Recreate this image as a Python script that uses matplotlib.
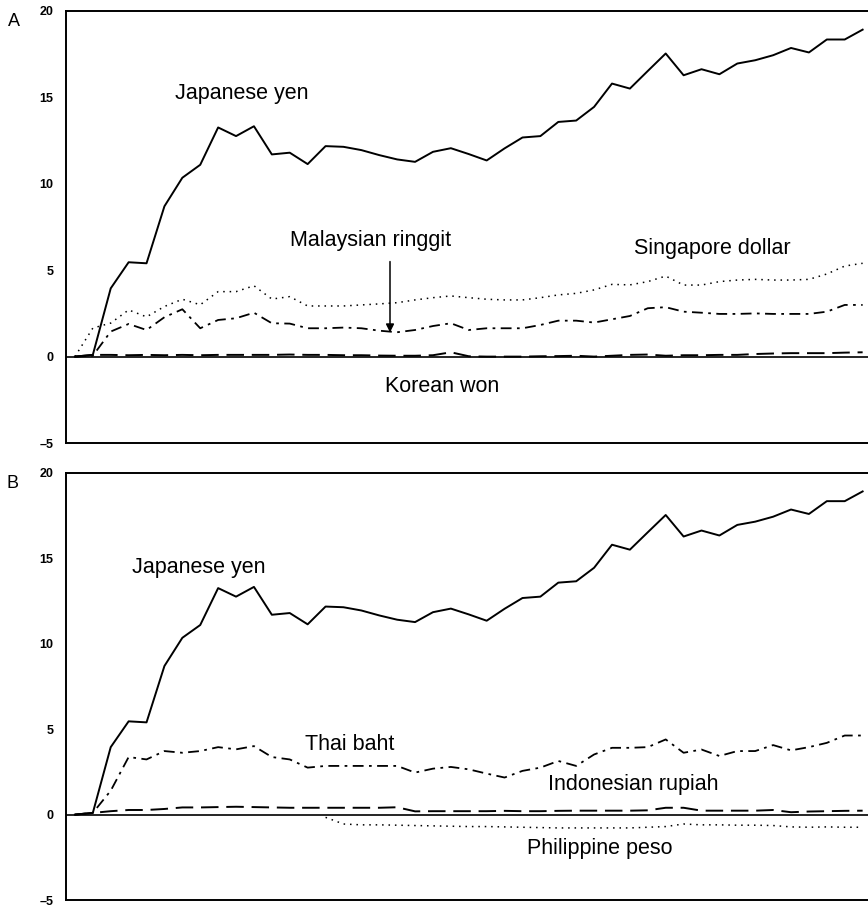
import numpy as np
import matplotlib
matplotlib.use("Agg")
import matplotlib.pyplot as plt

plt.rcParams['font.family'] = ['Liberation Sans', 'DejaVu Sans']

# ---- data (index = time period) ----
periods = list(range(45))
nan = float('nan')

japanese_yen = [0.0, 0.1, 3.95, 5.46, 5.40, 8.70, 10.35, 11.10, 13.26, 12.76,
                13.33, 11.70, 11.80, 11.14, 12.18, 12.14, 11.95, 11.66, 11.41, 11.27,
                11.85, 12.06, 11.72, 11.35, 12.05, 12.68, 12.76, 13.58, 13.66, 14.45,
                15.80, 15.51, 16.53, 17.54, 16.28, 16.63, 16.34, 16.96, 17.15, 17.44,
                17.86, 17.60, 18.35, 18.35, 18.92]

singapore_dollar = [0.0, 1.65, 1.94, 2.70, 2.30, 2.90, 3.32, 3.00, 3.76, 3.76,
                    4.10, 3.33, 3.47, 2.93, 2.93, 2.93, 2.99, 3.05, 3.12, 3.28,
                    3.41, 3.51, 3.41, 3.32, 3.28, 3.28, 3.41, 3.57, 3.66, 3.86,
                    4.18, 4.15, 4.34, 4.66, 4.14, 4.14, 4.34, 4.43, 4.47, 4.43,
                    4.43, 4.47, 4.78, 5.24, 5.40]

malaysian_ringgit = [0.0, 0.05, 1.45, 1.89, 1.54, 2.28, 2.74, 1.64, 2.12, 2.22,
                     2.54, 1.93, 1.91, 1.64, 1.64, 1.68, 1.64, 1.50, 1.41, 1.54,
                     1.77, 1.93, 1.54, 1.64, 1.64, 1.64, 1.83, 2.08, 2.08, 1.97,
                     2.16, 2.35, 2.80, 2.86, 2.60, 2.54, 2.47, 2.47, 2.50, 2.47,
                     2.47, 2.47, 2.60, 2.99, 2.99]

korean_won = [0.0, 0.10, 0.10, 0.08, 0.10, 0.08, 0.10, 0.08, 0.10, 0.10,
              0.10, 0.10, 0.12, 0.10, 0.10, 0.08, 0.08, 0.06, 0.05, 0.05,
              0.08, 0.25, 0.02, 0.0, 0.0, 0.0, 0.02, 0.03, 0.05, 0.0,
              0.05, 0.10, 0.12, 0.05, 0.08, 0.08, 0.10, 0.10, 0.15, 0.18,
              0.20, 0.20, 0.20, 0.23, 0.25]

thai_baht = [0.0, 0.10, 1.40, 3.37, 3.23, 3.72, 3.62, 3.72, 3.95, 3.82,
             4.01, 3.37, 3.23, 2.75, 2.85, 2.85, 2.85, 2.85, 2.85, 2.46,
             2.69, 2.79, 2.65, 2.40, 2.17, 2.56, 2.75, 3.14, 2.85, 3.52,
             3.91, 3.91, 3.95, 4.40, 3.62, 3.81, 3.43, 3.72, 3.72, 4.07,
             3.76, 3.95, 4.20, 4.63, 4.63]

indonesian_rupiah = [0.0, 0.10, 0.20, 0.27, 0.27, 0.33, 0.42, 0.42, 0.44, 0.46,
                     0.44, 0.42, 0.40, 0.40, 0.40, 0.40, 0.40, 0.40, 0.43, 0.19,
                     0.20, 0.20, 0.20, 0.20, 0.22, 0.20, 0.20, 0.22, 0.23, 0.23,
                     0.23, 0.23, 0.25, 0.40, 0.40, 0.23, 0.23, 0.23, 0.23, 0.27,
                     0.14, 0.18, 0.20, 0.22, 0.23]

philippine_peso = [nan] * 14 + [-0.16, -0.55, -0.60, -0.60, -0.62, -0.64,
                   -0.66, -0.68, -0.70, -0.70, -0.72, -0.74, -0.76, -0.78, -0.78, -0.78,
                   -0.78, -0.78, -0.74, -0.70, -0.55, -0.60, -0.60, -0.62, -0.62, -0.64,
                   -0.72, -0.74, -0.72, -0.74, -0.74]

yticks = [-5, 0, 5, 10, 15, 20]

# ---- figure ----
fig = plt.figure(figsize=(8.68, 9.08), dpi=100)
axA = fig.add_axes([0.076, 0.5121, 0.924, 0.4758])
axB = fig.add_axes([0.076, 0.0088, 0.924, 0.4703])

solid = dict(color='black', lw=1.4, linestyle='-')
dotted = dict(color='black', lw=1.1, linestyle=(0, (1.0, 3.2)))
dashdot = dict(color='black', lw=1.3, linestyle=(0, (6, 3, 1.5, 3)))
dashed = dict(color='black', lw=1.4, linestyle=(0, (9, 4)))

label_font = dict(fontsize=15.5, ha='center', va='center')

def style(ax):
    ax.set_xlim(-0.5, 44.3)
    ax.set_ylim(-5, 20)
    ax.set_yticks(yticks)
    ax.set_yticklabels([str(t) if t >= 0 else '\u2013' + str(-t) for t in yticks],
                       fontsize=9, fontweight='bold')
    ax.tick_params(axis='y', length=0, pad=9)
    ax.set_xticks([])
    ax.spines['right'].set_visible(False)
    for s in ('left', 'top', 'bottom'):
        ax.spines[s].set_linewidth(1.4)
    ax.axhline(0, color='black', lw=1.2)

# Panel A
style(axA)
axA.plot(periods, japanese_yen, **solid)
axA.plot(periods, singapore_dollar, **dotted)
axA.plot(periods, malaysian_ringgit, **dashdot)
axA.plot(periods, korean_won, **dashed)
axA.text(9.33, 15.24, 'Japanese yen', **label_font)
axA.text(16.5, 6.74, 'Malaysian ringgit', **label_font)
axA.text(35.6, 6.28, 'Singapore dollar', **label_font)
axA.text(20.5, -1.75, 'Korean won', **label_font)
axA.annotate('', xy=(17.6, 1.4), xytext=(17.6, 5.5),
             arrowprops=dict(arrowstyle='-|>', color='black', lw=1.1,
                             mutation_scale=12, shrinkA=0, shrinkB=0))

# Panel B
style(axB)
axB.plot(periods, japanese_yen, **solid)
axB.plot(periods, thai_baht, **dashdot)
axB.plot(periods, indonesian_rupiah, **dashed)
axB.plot(periods, philippine_peso, **dotted)
axB.text(6.93, 14.48, 'Japanese yen', **label_font)
axB.text(15.36, 4.1, 'Thai baht', **label_font)
axB.text(31.2, 1.78, 'Indonesian rupiah', **label_font)
axB.text(29.3, -2.0, 'Philippine peso', **label_font)

fig.text(14 / 868, 1 - 21 / 908, 'A', fontsize=13, ha='center', va='center')
fig.text(13 / 868, 1 - 483 / 908, 'B', fontsize=13, ha='center', va='center')

fig.savefig('out.png', dpi=100)
